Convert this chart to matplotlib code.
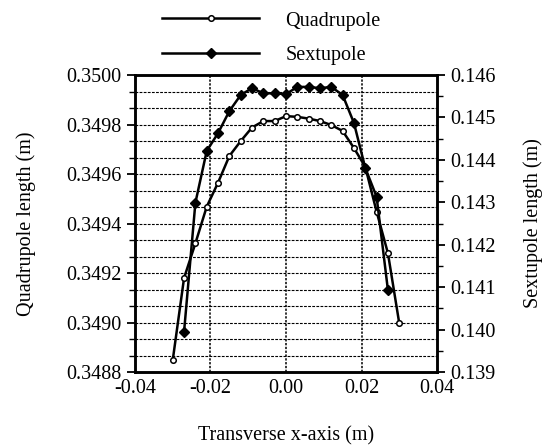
import numpy as np
import matplotlib
matplotlib.use("Agg")
import matplotlib.pyplot as plt
from matplotlib.ticker import MultipleLocator, FormatStrFormatter

plt.rcParams['font.family'] = ['Liberation Serif', 'DejaVu Serif']
plt.rcParams['axes.unicode_minus'] = False

# positions sur l'axe transverse (m)
x_quad = [-0.030, -0.027, -0.024, -0.021, -0.018, -0.015, -0.012, -0.009, -0.006, -0.003,
          0.000, 0.003, 0.006, 0.009, 0.012, 0.015, 0.018, 0.021, 0.024, 0.027, 0.030]
quad_len = [0.348848, 0.349180, 0.349320, 0.349468, 0.349565, 0.349673, 0.349733, 0.349788,
            0.349814, 0.349814, 0.349834, 0.349831, 0.349824, 0.349814, 0.349798, 0.349774,
            0.349705, 0.349629, 0.349448, 0.349280, 0.348997]

x_sext = [-0.027, -0.024, -0.021, -0.018, -0.015, -0.012, -0.009, -0.006, -0.003,
          0.000, 0.003, 0.006, 0.009, 0.012, 0.015, 0.018, 0.021, 0.024, 0.027]
sext_len = [0.13995, 0.14299, 0.14421, 0.14463, 0.14515, 0.14553, 0.14569, 0.14557, 0.14557,
            0.14555, 0.14572, 0.14572, 0.14569, 0.14572, 0.14553, 0.14487, 0.14381, 0.14313,
            0.14093]

fs = 14.5

fig = plt.figure(figsize=(5.43, 4.48), dpi=100)
ax = fig.add_axes([0.2486, 0.1696, 0.5562, 0.6629])
ax2 = ax.twinx()

# grille pointillee
ax.set_xlim(-0.04, 0.04)
ax.set_ylim(0.3488, 0.3500)
ax.xaxis.set_major_locator(MultipleLocator(0.02))
ax.xaxis.set_major_formatter(FormatStrFormatter('%.2f'))
ax.yaxis.set_major_locator(MultipleLocator(0.0002))
ax.yaxis.set_minor_locator(MultipleLocator(0.0002 / 3))
ax.yaxis.set_major_formatter(FormatStrFormatter('%.4f'))
ax.grid(True, which='both', axis='y', color='black', linestyle=(0, (2.5, 1.2)), linewidth=0.8)
for xv in [-0.02, 0.0, 0.02]:
    ax.axvline(xv, color='black', linestyle=(0, (1.5, 1.0)), linewidth=1.1, zorder=1)

l1, = ax.plot(x_quad, quad_len, color='black', linewidth=1.8, marker='o', markersize=4,
              markerfacecolor='white', markeredgewidth=1.1, label='Quadrupole', zorder=3)
l2, = ax2.plot(x_sext, sext_len, color='black', linewidth=1.8, marker='D', markersize=5.5,
               markerfacecolor='black', label='Sextupole', zorder=3)

ax2.set_ylim(0.139, 0.146)
ax2.yaxis.set_major_locator(MultipleLocator(0.001))
ax2.yaxis.set_minor_locator(MultipleLocator(0.0005))
ax2.yaxis.set_major_formatter(FormatStrFormatter('%.3f'))

for a in (ax, ax2):
    for s in a.spines.values():
        s.set_linewidth(1.8)

ax.tick_params(axis='y', which='major', direction='out', length=6, width=1.3, labelsize=fs)
ax.tick_params(axis='y', which='minor', direction='out', length=4, width=1.0)
ax.tick_params(axis='x', which='major', direction='in', length=0, labelsize=fs, pad=5)
ax2.tick_params(axis='y', which='major', direction='out', length=6, width=1.3, labelsize=fs)
ax2.tick_params(axis='y', which='minor', direction='out', length=4, width=1.0)

ax.set_xlabel('Transverse x-axis (m)', fontsize=fs, labelpad=20)
ax.set_ylabel('Quadrupole length (m)', fontsize=fs, labelpad=22)
ax2.set_ylabel('Sextupole length (m)', fontsize=fs, labelpad=20)

fig.legend(handles=[l1, l2], loc='upper center', bbox_to_anchor=(0.50, 1.015), frameon=False,
           fontsize=fs, handlelength=4.8, handletextpad=1.3, labelspacing=0.75)

fig.savefig('out.png', dpi=100)
